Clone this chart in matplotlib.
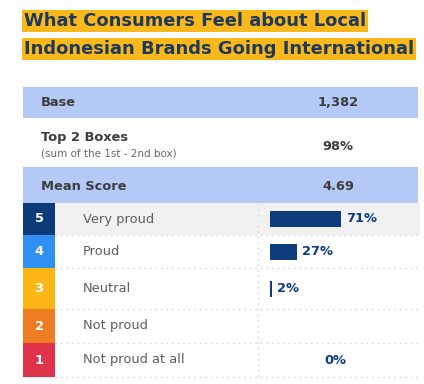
import numpy as np
import matplotlib
matplotlib.use("Agg")
import matplotlib.pyplot as plt
from matplotlib.patches import Rectangle

# ---- data ----
title_lines = ["What Consumers Feel about Local", "Indonesian Brands Going International"]
summary_labels = ["Base", "Top 2 Boxes", "Mean Score"]
summary_sub = ["", "(sum of the 1st - 2nd box)", ""]
summary_values = ["1,382", "98%", "4.69"]
levels = ["5", "4", "3", "2", "1"]
labels = ["Very proud", "Proud", "Neutral", "Not proud", "Not proud at all"]
values = [71, 27, 2, np.nan, 0]

# ---- style ----
W, H = 424, 384
navy = "#0d3d7c"
title_col = "#1d3a5e"
yellow = "#fbb81b"
band = "#b5c9f6"
level_cols = ["#0b3b78", "#2f90f2", "#fdb614", "#ee7c22", "#e1324b"]
dot_col = "#c9d5ec"
txt_dark = "#3d3d3d"
txt_gray = "#5e5e5e"

fig = plt.figure(figsize=(W / 100, H / 100), dpi=100)
ax = fig.add_axes([0, 0, 1, 1])
ax.set_xlim(0, W)
ax.set_ylim(H, 0)
ax.axis("off")

font = "DejaVu Sans"

# title with highlight per line
for i, (line, yc) in enumerate(zip(title_lines, [21, 49])):
    ax.text(24, yc, line, fontsize=12.9, fontweight="heavy", color=title_col,
            family=font, va="center", ha="left",
            bbox=dict(boxstyle="square,pad=0.12", fc=yellow, ec="none"))

L, R = 23, 418
# summary bands
ax.add_patch(Rectangle((L, 87), R - L, 31, fc=band, ec="none"))
ax.add_patch(Rectangle((L, 167), R - L, 36, fc=band, ec="none"))
vcx = 338
sum_y = [102, 147, 186]
ax.text(41, 102, summary_labels[0], fontsize=9.4, fontweight="bold", color=txt_dark, family=font, va="center")
ax.text(41, 137, summary_labels[1], fontsize=9.4, fontweight="bold", color=txt_dark, family=font, va="center")
ax.text(41, 153, summary_sub[1], fontsize=7.5, color="#666666", family=font, va="center")
ax.text(41, 186, summary_labels[2], fontsize=9.4, fontweight="bold", color=txt_dark, family=font, va="center")
for v, y in zip(summary_values, sum_y):
    ax.text(vcx, y, v, fontsize=9.4, fontweight="bold", color=txt_dark, family=font, va="center", ha="center")

# likert rows
bounds = [203, 235, 268, 309, 343, 377]
centers = [(a + b) / 2 for a, b in zip(bounds[:-1], bounds[1:])]
boxR = 55
ax.add_patch(Rectangle((boxR, bounds[0]), R - boxR + 2, bounds[1] - bounds[0], fc="#f1f1f1", ec="none"))
for i in range(5):
    y0, y1 = bounds[i], bounds[i + 1]
    ax.add_patch(Rectangle((L, y0), boxR - L, y1 - y0, fc=level_cols[i], ec="none"))
    ax.text((L + boxR) / 2, centers[i], levels[i], fontsize=9.4, fontweight="bold", color="white",
            family=font, ha="center", va="center")
    ax.text(83, centers[i], labels[i], fontsize=9.4, color=txt_gray, family=font, va="center")
    ax.plot([boxR, R], [y1, y1], color=dot_col, lw=1, ls=(0, (1, 3)))
divx = 258
ax.plot([divx, divx], [bounds[0], bounds[-1]], color=dot_col, lw=1, ls=(0, (1, 3)))

# bars in their own axes (1 px per percentage point)
bx0 = 270
bax = fig.add_axes([bx0 / W, 0, 100 / W, 1])
bax.set_xlim(0, 100)
bax.set_ylim(H, 0)
bax.axis("off")
vals = np.array(values, dtype=float)
bax.barh(centers, np.nan_to_num(vals), height=16, color=navy)
for c, v in zip(centers, vals):
    if np.isnan(v):
        continue
    if v == 0:
        ax.text(vcx - 3, c, "0%", fontsize=9.4, fontweight="bold", color=navy, family=font, ha="center", va="center")
    else:
        bax.text(v + 5, c, f"{int(v)}%", fontsize=9.4, fontweight="bold", color=navy, family=font, ha="left", va="center")

fig.savefig("out.png", dpi=100)
